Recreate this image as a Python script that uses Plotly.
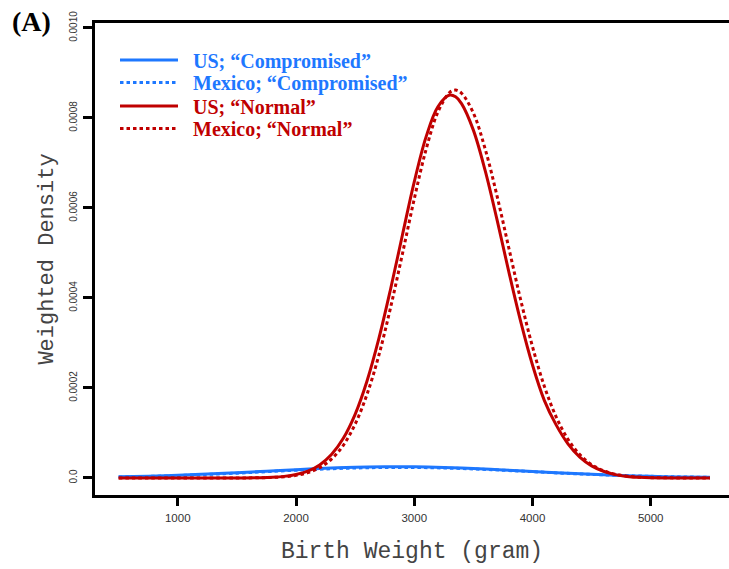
import plotly.graph_objects as go

# ---- data ----
blue_x = [500, 750, 1000, 1250, 1500, 1750, 2000, 2250, 2500, 2750, 3000,
          3250, 3500, 3750, 4000, 4250, 4500, 4750, 5000, 5250, 5500]
us_comp = [0.0000026, 0.0000040, 0.0000061, 0.0000087, 0.0000118, 0.0000152,
           0.0000185, 0.0000215, 0.0000238, 0.0000249, 0.0000248, 0.0000234,
           0.0000210, 0.0000179, 0.0000145, 0.0000111, 0.0000081, 0.0000056,
           0.0000037, 0.0000023, 0.0000014]
mx_comp = [0.0000022, 0.0000035, 0.0000054, 0.0000079, 0.0000108, 0.0000141,
           0.0000173, 0.0000201, 0.0000222, 0.0000233, 0.0000233, 0.0000222,
           0.0000201, 0.0000173, 0.0000141, 0.0000108, 0.0000080, 0.0000056,
           0.0000037, 0.0000024, 0.0000015]

red_x = [500, 1000, 1500, 1700, 1800, 1900, 2000, 2100, 2200, 2300, 2400, 2500,
         2600, 2700, 2800, 2900, 3000, 3100, 3200, 3300, 3350, 3400, 3500, 3600,
         3700, 3800, 3900, 4000, 4100, 4200, 4300, 4400, 4500, 4600, 4700,
         4800, 4900, 5000, 5500]
us_norm = [0.0, 0.0, 0.0000001, 0.0000007, 0.0000016, 0.0000036, 0.0000076,
           0.0000153, 0.0000290, 0.0000520, 0.0000882, 0.0001415, 0.0002150,
           0.000309, 0.000420, 0.000540, 0.000658, 0.000758, 0.000825, 0.000851,
           0.000847, 0.000832, 0.000773, 0.000683, 0.000574, 0.000458, 0.000348,
           0.000251, 0.0001725, 0.000118, 0.0000760, 0.0000465, 0.0000270,
           0.0000150, 0.0000075, 0.0000035, 0.0000016, 0.0000007, 0.0]
mx_norm = [0.0, 0.0, 0.0000001, 0.0000005, 0.0000012, 0.0000027, 0.0000058,
           0.0000118, 0.0000229, 0.0000420, 0.0000727, 0.0001195, 0.0001855,
           0.000272, 0.000379, 0.000498, 0.000620, 0.000730, 0.000813, 0.000857,
           0.000862, 0.000855, 0.000811, 0.000731, 0.000627, 0.000511, 0.000396,
           0.000292, 0.000204, 0.000136, 0.0000861, 0.0000519, 0.0000297,
           0.0000162, 0.0000084, 0.0000041, 0.0000019, 0.0000008, 0.0]

x_ticks = [1000, 2000, 3000, 4000, 5000]
y_ticks = [0.0, 0.0002, 0.0004, 0.0006, 0.0008, 0.0010]
y_tick_labels = ["0.0", "0.0002", "0.0004", "0.0006", "0.0008", "0.0010"]

BLUE = "#1e78ff"
RED = "#c00000"
DOT = "3.5px,3px"

L, T, B = 95, 23, 74
PW, PH = 729 - L, 569 - T - B
PLOT_BOTTOM = 569 - B

fig = go.Figure()

def nm(text, color):
    return f'<span style="color:{color}">&nbsp;&nbsp;<b>{text}</b></span>'

series = [
    (blue_x, us_comp, BLUE, "solid", "US; “Compromised”", "legend", 60),
    (blue_x, mx_comp, BLUE, DOT, "Mexico; “Compromised”", "legend2", 82.5),
    (red_x, us_norm, RED, "solid", "US; “Normal”", "legend3", 106),
    (red_x, mx_norm, RED, DOT, "Mexico; “Normal”", "legend4", 128.5),
]

legend_layouts = {}
for xs, ys, col, dash, label, lg, row_y in series:
    fig.add_trace(go.Scatter(x=xs, y=ys, mode="lines", line_shape="spline",
                             line=dict(color=col, width=3, dash=dash),
                             name=nm(label, col), legend=lg))
    legend_layouts[lg] = dict(x=(115 - L) / PW, y=(PLOT_BOTTOM - row_y) / PH,
                              xanchor="left", yanchor="middle",
                              bgcolor="rgba(0,0,0,0)",
                              font=dict(family="Liberation Serif", size=20),
                              itemwidth=58)

fig.update_layout(
    width=729, height=569,
    margin=dict(l=L, r=0, t=T, b=B, autoexpand=False),
    paper_bgcolor="white", plot_bgcolor="white",
    showlegend=True,
    xaxis=dict(range=[300, 5662], tickvals=x_ticks,
               ticktext=[str(v) for v in x_ticks], automargin=False,
               showline=True, linewidth=3, linecolor="black", mirror=True,
               ticks="outside", ticklen=8, tickwidth=3, tickcolor="black",
               ticklabelstandoff=2,
               showgrid=False, zeroline=False,
               tickfont=dict(family="Liberation Sans", size=11.5, color="#333333"),
               title=dict(text="Birth Weight (gram)", standoff=20,
                          font=dict(family="Liberation Mono", size=23, color="#444444"))),
    yaxis=dict(range=[-0.0000378, 0.0010111], tickvals=y_ticks,
               ticktext=y_tick_labels, tickangle=-90, automargin=False,
               showline=True, linewidth=3, linecolor="black",
               ticks="outside", ticklen=9, tickwidth=3, tickcolor="black",
               ticklabelstandoff=2,
               showgrid=False, zeroline=False,
               tickfont=dict(family="Liberation Sans", size=10, color="#333333"),
               title=dict(text="Weighted Density", standoff=9,
                          font=dict(family="Liberation Mono", size=22, color="#444444"))),
    annotations=[dict(text="<b>(A)</b>", x=(31 - L) / PW, y=(PLOT_BOTTOM - 22) / PH,
                      xref="paper", yref="paper", xanchor="center", yanchor="middle",
                      showarrow=False,
                      font=dict(family="Liberation Serif", size=28, color="black"))],
    **legend_layouts,
)

fig.write_html("out.html", config={"displayModeBar": False},
               post_script="document.body.style.margin='0px';document.body.style.padding='0px';")
